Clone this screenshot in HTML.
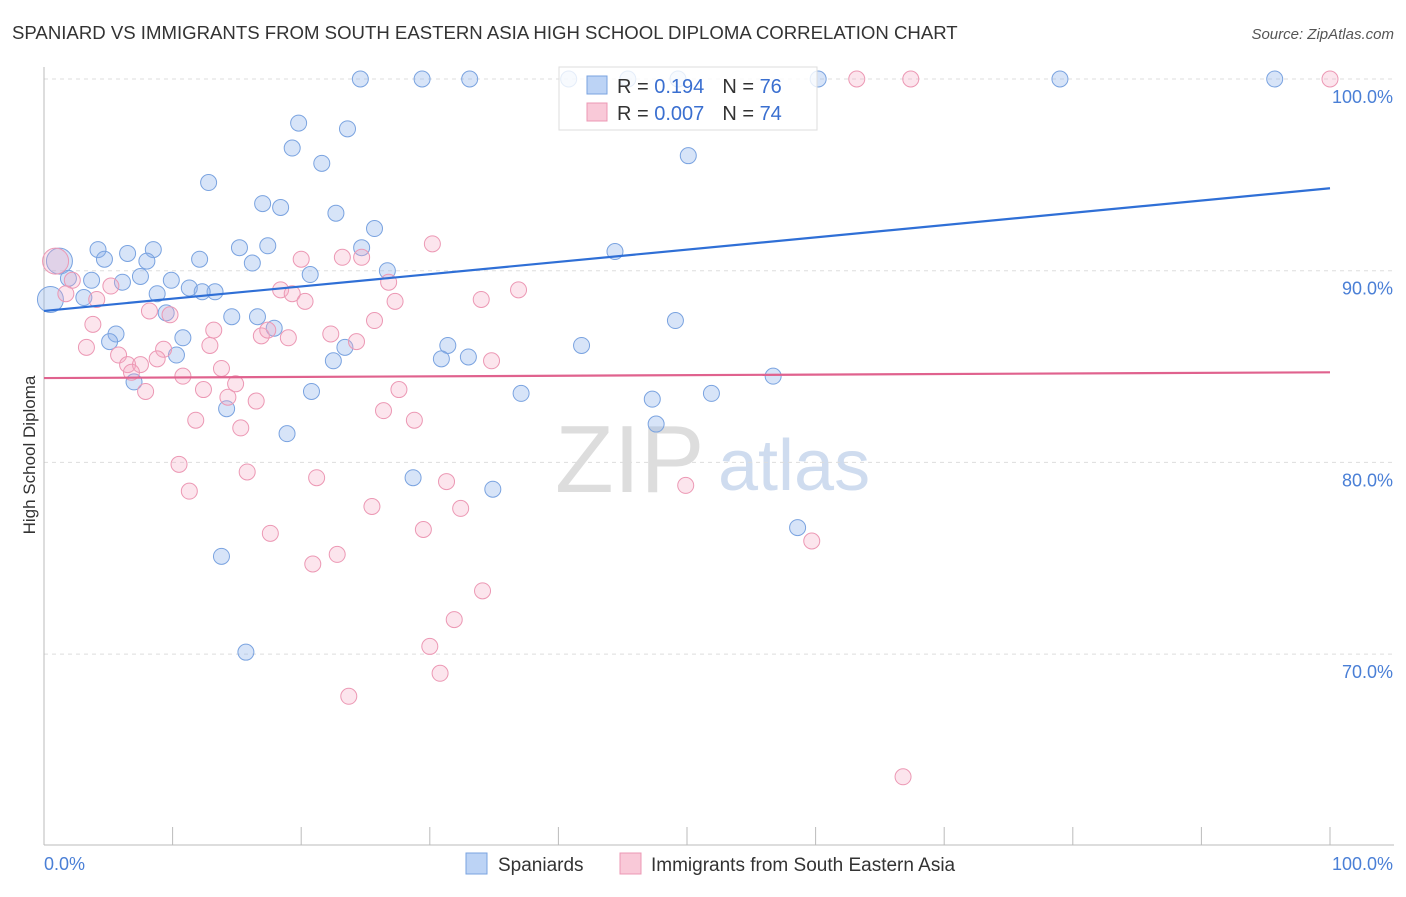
<!DOCTYPE html>
<html><head><meta charset="utf-8"><style>
body{margin:0;background:#fff;font-family:"Liberation Sans",sans-serif}
svg text{font-family:"Liberation Sans",sans-serif}
</style></head><body>
<svg id="chart" width="1406" height="892">
<text x="12" y="39" font-size="18.6" fill="#333">SPANIARD VS IMMIGRANTS FROM SOUTH EASTERN ASIA HIGH SCHOOL DIPLOMA CORRELATION CHART</text>
<text x="1394" y="39" font-size="15" fill="#555" text-anchor="end" font-style="italic">Source: ZipAtlas.com</text>
<text x="35" y="455" font-size="17" fill="#333" text-anchor="middle" transform="rotate(-90 35 455)">High School Diploma</text>
<text x="555" y="492" font-size="96" fill="#ddd" font-family="Liberation Serif">ZIP</text>
<text x="718" y="490" font-size="72" fill="#cfdcef">atlas</text>
<g id="grid"></g><g id="axes"></g><g id="pts"></g><g id="lines"></g>
<g>
<rect x="559" y="67" width="258" height="63" fill="rgba(255,255,255,0.8)" stroke="#ddd"/>
<rect x="587" y="76" width="20" height="18" fill="#bcd3f5" stroke="#7aa3e0"/>
<text x="617" y="93" font-size="20" fill="#333">R = <tspan fill="#3a6fd0"> 0.194</tspan><tspan dx="18">N = </tspan><tspan fill="#3a6fd0">76</tspan></text>
<rect x="587" y="103" width="20" height="18" fill="#f9c9d8" stroke="#ec98b4"/>
<text x="617" y="120" font-size="20" fill="#333">R = <tspan fill="#3a6fd0">0.007</tspan><tspan dx="18">N = </tspan><tspan fill="#3a6fd0">74</tspan></text>
</g>
<g>
<rect x="466" y="853" width="21" height="21" fill="#bcd3f5" stroke="#7aa3e0"/>
<text x="498" y="871" font-size="19" fill="#333">Spaniards</text>
<rect x="620" y="853" width="21" height="21" fill="#f9c9d8" stroke="#ec98b4"/>
<text x="651" y="871" font-size="19" fill="#333">Immigrants from South Eastern Asia</text>
</g>
</svg>
<script>
const blueX=[24.6,29.4,33.1,40.8,45.4,49.3,60.2,79.0,95.7,19.8,23.6,19.3,50.1,21.6,12.8,17.0,18.4,22.7,25.7,4.2,8.5,6.5,15.2,17.4,24.7,44.4,4.7,8.0,12.1,16.2,1.2,26.7,20.7,7.5,1.9,3.7,9.9,6.1,11.3,13.3,12.3,3.1,8.8,0.5,9.5,14.6,16.6,49.1,17.9,5.6,10.8,5.1,31.4,41.8,23.4,10.3,33.0,30.9,22.5,56.7,7.0,20.8,37.1,51.9,47.3,14.2,47.6,18.9,28.7,34.9,58.6,13.8,15.7];
const blueY=[100,100,100,100,100,100,100,100,100,97.7,97.4,96.4,96.0,95.6,94.6,93.5,93.3,93.0,92.2,91.1,91.1,90.9,91.2,91.3,91.2,91.0,90.6,90.5,90.6,90.4,90.5,90.0,89.8,89.7,89.6,89.5,89.5,89.4,89.1,88.9,88.9,88.6,88.8,88.5,87.8,87.6,87.6,87.4,87.0,86.7,86.5,86.3,86.1,86.1,86.0,85.6,85.5,85.4,85.3,84.5,84.2,83.7,83.6,83.6,83.3,82.8,82.0,81.5,79.2,78.6,76.6,75.1,70.1];
const pinkX=[63.2,67.4,100,30.2,0.9,20.0,23.2,24.7,2.2,26.8,5.2,18.4,36.9,4.1,1.7,19.3,20.3,34.0,27.3,8.2,9.8,25.7,3.8,13.2,16.9,17.4,19.0,22.3,24.3,3.3,12.9,9.3,5.8,8.8,6.5,7.5,34.8,13.8,6.8,10.8,14.9,12.4,7.9,27.6,14.3,16.5,26.4,11.8,28.8,15.3,10.5,15.8,21.2,31.3,11.3,49.9,25.5,32.4,29.5,17.6,59.7,22.8,20.9,34.1,31.9,30.0,30.8,23.7,66.8];
const pinkY=[100,100,100,91.4,90.5,90.6,90.7,90.7,89.5,89.4,89.2,89.0,89.0,88.5,88.8,88.8,88.4,88.5,88.4,87.9,87.7,87.4,87.2,86.9,86.6,86.9,86.5,86.7,86.3,86.0,86.1,85.9,85.6,85.4,85.1,85.1,85.3,84.9,84.7,84.5,84.1,83.8,83.7,83.8,83.4,83.2,82.7,82.2,82.2,81.8,79.9,79.5,79.2,79.0,78.5,78.8,77.7,77.6,76.5,76.3,75.9,75.2,74.7,73.3,71.8,70.4,69.0,67.8,63.6];
const yTicks=[100,90,80,70];
const yTickLabels=["100.0%","90.0%","80.0%","70.0%"];
const blueTrend=[87.9,94.3];
const pinkTrend=[84.4,84.7];
const NS='http://www.w3.org/2000/svg';
const X=v=>44+v*12.86, Y=v=>79+(100-v)*19.17;
function mk(p,t,a){const e=document.createElementNS(NS,t);for(const k in a)e.setAttribute(k,a[k]);p.appendChild(e);return e;}
const grid=document.getElementById('grid'),axes=document.getElementById('axes'),pts=document.getElementById('pts'),lines=document.getElementById('lines');
yTicks.forEach((t,i)=>{
 const l=mk(grid,'line',{x1:44,x2:1394,y1:Y(t),y2:Y(t),stroke:'#ddd','stroke-dasharray':'4,4'});
 
 
 const tx=mk(axes,'text',{x:1393,y:Y(t)+24,'font-size':18,fill:'#4a7fd6','text-anchor':'end'});
 tx.textContent=yTickLabels[i];
 
 
});
mk(axes,'line',{x1:44,x2:44,y1:67,y2:845,stroke:'#bbb'});
mk(axes,'line',{x1:44,x2:1394,y1:845,y2:845,stroke:'#bbb'});
for(let i=0;i<=10;i++){const t=mk(axes,'line',{x1:X(i*10),x2:X(i*10),y1:827,y2:845,stroke:'#bbb'});
 
 }
const x0=mk(axes,'text',{x:44,y:870,'font-size':18,fill:'#4a7fd6'});x0.textContent='0.0%';


const x1=mk(axes,'text',{x:1393,y:870,'font-size':18,fill:'#4a7fd6','text-anchor':'end'});x1.textContent='100.0%';


function dots(xs,ys,fill,stroke,name){xs.forEach((x,i)=>{
 const r=(x<1.5)?13:8;
 const c=mk(pts,'circle',{cx:X(x),cy:Y(ys[i]),r:r,fill:fill,stroke:stroke,'stroke-width':1});
 
 
});}
dots(blueX,blueY,'rgba(140,178,235,0.35)','#7aa3e0','spaniards-point');
dots(pinkX,pinkY,'rgba(245,170,195,0.3)','#ec98b4','immigrants-point');
const bl=mk(lines,'line',{x1:X(0),y1:Y(blueTrend[0]),x2:X(100),y2:Y(blueTrend[1]),stroke:'#2f6fd6','stroke-width':2.2});


const pl=mk(lines,'line',{x1:X(0),y1:Y(pinkTrend[0]),x2:X(100),y2:Y(pinkTrend[1]),stroke:'#e0628e','stroke-width':2.2});


</script>
</body></html>
